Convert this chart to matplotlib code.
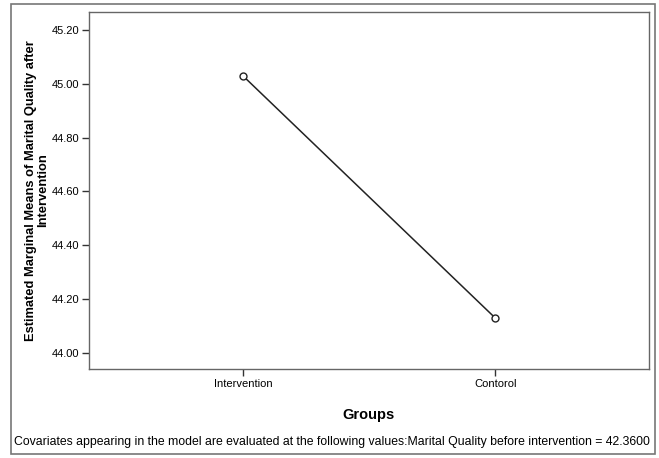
import numpy as np
import matplotlib.pyplot as plt
from matplotlib.patches import Rectangle

plt.rcParams['font.family'] = ['Liberation Sans', 'DejaVu Sans']

# Datos
groups = ['Intervention', 'Contorol']
means = [45.03, 44.13]
yticks = [44.00, 44.20, 44.40, 44.60, 44.80, 45.00, 45.20]

W, H = 659, 458
fig = plt.figure(figsize=(W / 100, H / 100), dpi=100)

# Marco exterior
fig.patches.append(Rectangle((11 / W, 1 - 454 / H), (655 - 11) / W, (454 - 4) / H,
                             transform=fig.transFigure, fill=False,
                             edgecolor='#777777', linewidth=1.2))

ax = fig.add_axes([89 / W, 1 - 369 / H, (649 - 89) / W, (369 - 12) / H])
x = np.arange(len(groups))
ax.plot(x, means, color='#222222', linewidth=1.1, marker='o', markersize=5,
        markerfacecolor='white', markeredgecolor='#222222', markeredgewidth=1.0)

ax.set_xlim(-0.61, 1.61)
ax.set_ylim(43.94, 45.267)
ax.set_xticks(x)
ax.set_xticklabels(groups, fontsize=8)
ax.set_yticks(yticks)
ax.set_yticklabels(['%.2f' % v for v in yticks], fontsize=8)
ax.tick_params(direction='out', length=5, width=1, color='#333333', pad=2)

for s in ax.spines.values():
    s.set_color('#666666')
    s.set_linewidth(1.0)

ax.set_xlabel('Groups', fontsize=10.5, fontweight='bold', labelpad=14)
ax.set_ylabel('Estimated Marginal Means of Marital Quality after\nIntervention',
              fontsize=9.3, fontweight='bold', labelpad=2, linespacing=0.95)

fig.text(14 / W, 1 - 442 / H,
         'Covariates appearing in the model are evaluated at the following values:'
         'Marital Quality before intervention = 42.3600',
         fontsize=8.8, va='center', ha='left')

fig.savefig('out.png', dpi=100)
